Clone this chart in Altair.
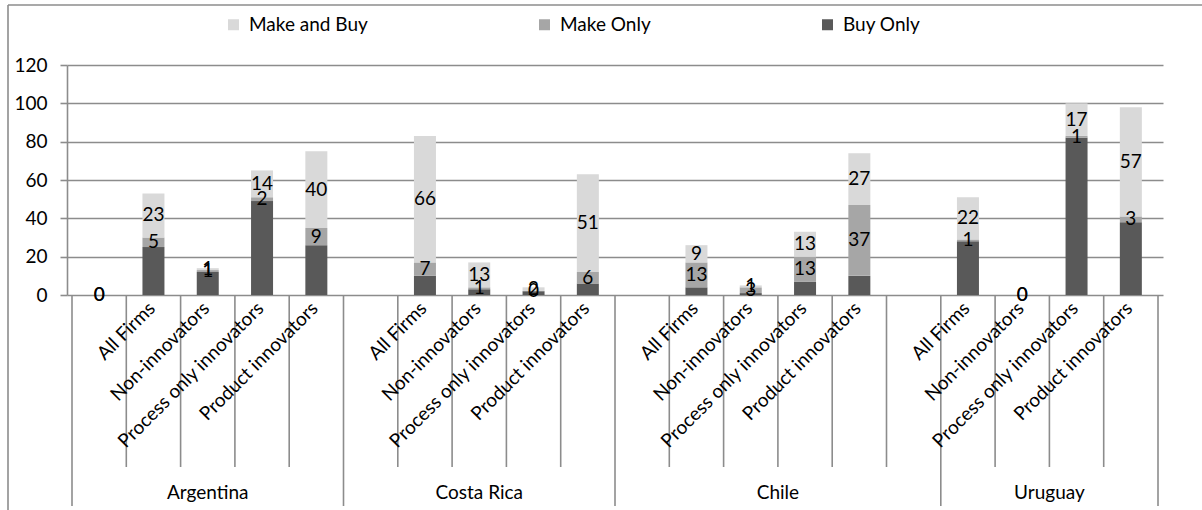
import altair as alt
import pandas as pd

FONT = "Lato"
FS = 19

# ---- data ----
countries = ["Argentina", "Costa Rica", "Chile", "Uruguay"]
categories = ["All Firms", "Non-innovators", "Process only innovators", "Product innovators"]
slot_country = ["Argentina"] * 5 + ["Costa Rica"] * 5 + ["Chile"] * 6 + ["Uruguay"] * 4
slot_category = ([""] + categories) + ([""] + categories) + ([""] + categories + [""]) + categories

buy_only =     [0, 25, 12, 49, 26, None, 10, 3, 2, 6, None, 4, 1, 7, 10, None, 28, 0, 82, 38]
make_only =    [0, 5, 1, 2, 9,   None, 7, 1, 0, 6,  None, 13, 3, 13, 37, None, 1, 0, 1, 3]
make_and_buy = [0, 23, 1, 14, 40, None, 66, 13, 2, 51, None, 9, 1, 13, 27, None, 22, 0, 17, 57]

series = ["Buy Only", "Make Only", "Make and Buy"]          # stacking order, bottom first
legend_order = ["Make and Buy", "Make Only", "Buy Only"]
legend_colors = ["#D9D9D9", "#A6A6A6", "#595959"]
y_ticks = [0, 20, 40, 60, 80, 100, 120]

# ---- tables ----
rows = []
for i in range(len(slot_country)):
    vals = [buy_only[i], make_only[i], make_and_buy[i]]
    if vals[0] is None:
        continue
    base = 0
    for k, s in enumerate(series):
        rows.append({"pos": i + 0.5, "series": s, "order": k, "value": vals[k],
                     "mid": base + vals[k] / 2})
        base += vals[k]
df = pd.DataFrame(rows)
lab_df = df[df["series"] != "Buy Only"]

n_slots = len(slot_country)
cat_df = pd.DataFrame([
    {"pos": i + 0.5, "label": slot_category[i]}
    for i in range(n_slots) if slot_category[i]
])

bounds = [0]
for c in countries:
    bounds.append(bounds[-1] + slot_country.count(c))
country_df = pd.DataFrame([
    {"pos": (bounds[j] + bounds[j + 1]) / 2, "country": c} for j, c in enumerate(countries)
])
long_df = pd.DataFrame({"pos": bounds})
short_df = pd.DataFrame({"pos": [k for k in range(1, n_slots) if k not in bounds]})
frame_df = pd.DataFrame({"side": ["frame"]})

# ---- chart ----
W, H = 1096, 230
GRID = "#8C8C8C"
xscale = alt.Scale(domain=[0, n_slots], nice=False, zero=False)
yscale = alt.Scale(domain=[0, 120], nice=False)
yaxis = alt.Axis(values=y_ticks, title=None, grid=True, gridColor=GRID, gridWidth=1.6,
                 domainColor=GRID, domainWidth=1.6, tickColor=GRID, tickWidth=1.6,
                 tickSize=7, labelFont=FONT, labelFontSize=FS, labelColor="black",
                 labelPadding=13)


def X():
    return alt.X("pos:Q", scale=xscale, axis=None)


bars = alt.Chart(df).mark_bar(size=22).encode(
    x=X(),
    y=alt.Y("value:Q", stack="zero", scale=yscale, axis=yaxis),
    color=alt.Color("series:N", scale=alt.Scale(domain=legend_order, range=legend_colors),
                    legend=alt.Legend(title=None, orient="none", direction="horizontal",
                                      legendX=157, legendY=-50, symbolType="square",
                                      symbolSize=121, symbolStrokeWidth=0, labelFont=FONT,
                                      labelFontSize=FS, labelColor="black", labelOffset=6,
                                      columnPadding=167)),
    order=alt.Order("order:Q"),
)

labels = alt.Chart(lab_df).mark_text(
    font=FONT, fontSize=FS, color="black", baseline="middle"
).encode(
    x=X(),
    y=alt.Y("mid:Q", scale=yscale, axis=yaxis),
    text="value:Q",
)

short_rules = alt.Chart(short_df).mark_rule(color=GRID, strokeWidth=1.6).encode(
    x=X(), y=alt.value(H), y2=alt.value(402)
)
long_rules = alt.Chart(long_df).mark_rule(color=GRID, strokeWidth=1.6).encode(
    x=X(), y=alt.value(H), y2=alt.value(441)
)

cat_text = alt.Chart(cat_df).mark_text(
    font=FONT, fontSize=FS, color="black", angle=315, align="right", baseline="middle", dx=-2
).encode(x=X(), y=alt.value(H + 9), text="label:N")

country_text = alt.Chart(country_df).mark_text(
    font=FONT, fontSize=FS, color="black", baseline="middle"
).encode(x=X(), y=alt.value(428), text="country:N")

frame_left = alt.Chart(frame_df).mark_rule(color=GRID, strokeWidth=1.6).encode(
    x=alt.value(-59), y=alt.value(-60), y2=alt.value(460), detail="side:N"
)
frame_top = alt.Chart(frame_df).mark_rule(color=GRID, strokeWidth=1.6).encode(
    x=alt.value(-59), x2=alt.value(1200), y=alt.value(-60), detail="side:N"
)

chart = alt.layer(
    frame_left, frame_top, short_rules, long_rules, bars, labels, cat_text, country_text
).properties(
    width=W, height=H,
    autosize=alt.AutoSizeParams(type="none"),
    padding={"left": 67, "top": 65, "right": 39, "bottom": 215},
).configure_view(strokeWidth=0)

chart.save("out.html", embed_options={"renderer": "svg", "actions": False})
